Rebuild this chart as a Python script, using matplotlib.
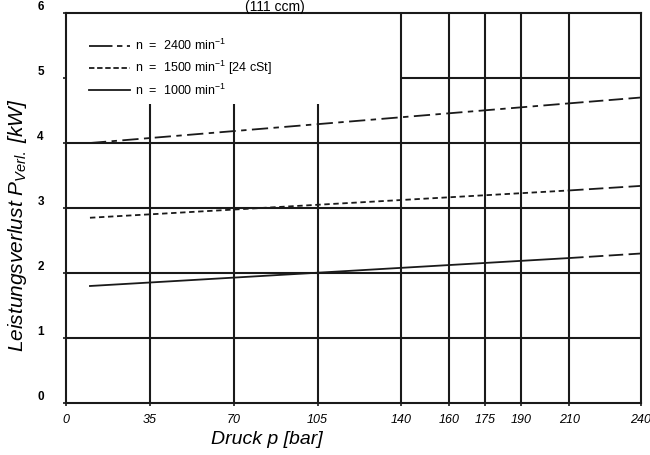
import matplotlib
matplotlib.use("Agg")
import matplotlib.pyplot as plt
from matplotlib.lines import Line2D

# Data
pressure = [10, 210, 240]
p_2400 = [4.00, 4.61, 4.70]
p_1500 = [2.85, 3.27, 3.34]
p_1000 = [1.80, 2.23, 2.30]

x_ticks = [0, 35, 70, 105, 140, 160, 175, 190, 210, 240]
y_ticks = [0, 1, 2, 3, 4, 5, 6]
short_vlines = [35, 70, 105]
full_vlines = [140, 160, 175, 190, 210]
hgrid = [1, 2, 3, 4]

labels = ["n  =  2400 min$^{-1}$", "n  =  1500 min$^{-1}$ [24 cSt]", "n  =  1000 min$^{-1}$"]

plt.rcParams['font.family'] = ['Liberation Sans', 'DejaVu Sans']
plt.rcParams['mathtext.fontset'] = 'custom'
plt.rcParams['mathtext.it'] = 'Liberation Sans:italic'
plt.rcParams['mathtext.rm'] = 'Liberation Sans'

fig = plt.figure(figsize=(6.5, 4.55), dpi=100)
ax = fig.add_axes([66/650, 1-403/455, 575/650, 390/455])
ax.set_xlim(0, 240)
ax.set_ylim(0, 6)

lw_grid = 1.5
ax.vlines(short_vlines, 0, 4.6, color='#1a1a1a', lw=lw_grid)
ax.vlines(full_vlines, 0, 6, color='#1a1a1a', lw=lw_grid)
ax.hlines(hgrid, 0, 240, color='#1a1a1a', lw=lw_grid)
ax.hlines([5], 140, 240, color='#1a1a1a', lw=lw_grid)

lc = '#1a1a1a'
ax.plot(pressure[:2], p_2400[:2], color=lc, lw=1.3, dashes=(9, 3, 3, 3))
ax.plot(pressure[1:], p_2400[1:], color=lc, lw=1.3, dashes=(8, 3))
ax.plot(pressure[:2], p_1500[:2], color=lc, lw=1.3, dashes=(3, 2))
ax.plot(pressure[1:], p_1500[1:], color=lc, lw=1.3, dashes=(8, 3))
ax.plot(pressure[:2], p_1000[:2], color=lc, lw=1.3)
ax.plot(pressure[1:], p_1000[1:], color=lc, lw=1.3, dashes=(8, 3))

handles = [
    Line2D([], [], color=lc, lw=1.3, dashes=(13, 2.5, 3, 2.5, 3, 2)),
    Line2D([], [], color=lc, lw=1.3, dashes=(3, 1.5)),
    Line2D([], [], color=lc, lw=1.3),
]
leg = ax.legend(handles, labels, loc='upper left', bbox_to_anchor=(0.02, 0.965),
                frameon=False, fontsize=9, handlelength=3.3, handletextpad=0.4,
                labelspacing=0.45)

for s in ax.spines.values():
    s.set_linewidth(1.5)
    s.set_color('#1a1a1a')

ax.set_xticks(x_ticks)
ax.set_xticklabels([str(v) for v in x_ticks], fontsize=9, style='italic')
ax.set_yticks(y_ticks)
ax.set_yticklabels([str(v) for v in y_ticks], fontsize=8.5, fontweight='bold')
ax.tick_params(axis='both', length=2, width=1.2, color='#1a1a1a')
ax.tick_params(axis='x', pad=6)
ax.tick_params(axis='y', pad=14)
for t in ax.get_yticklabels():
    t.set_verticalalignment('bottom')

ax.set_xlabel("Druck p [bar]", fontsize=14, style='italic')
ax.xaxis.set_label_coords((267-66)/575, -(440-403)/390, transform=ax.transAxes)
ax.xaxis.label.set_verticalalignment('center')
ax.set_ylabel("Leistungsverlust P$_{\\mathit{Verl.}}$ [kW]", fontsize=15, style='italic')
ax.yaxis.set_label_coords(-(66-18)/575, (403-225)/390, transform=ax.transAxes)
ax.yaxis.label.set_verticalalignment('center')

fig.text(275/650, 1.0, "(111 ccm)", fontsize=10, ha='center', va='top')

fig.savefig("out.png", dpi=100)
